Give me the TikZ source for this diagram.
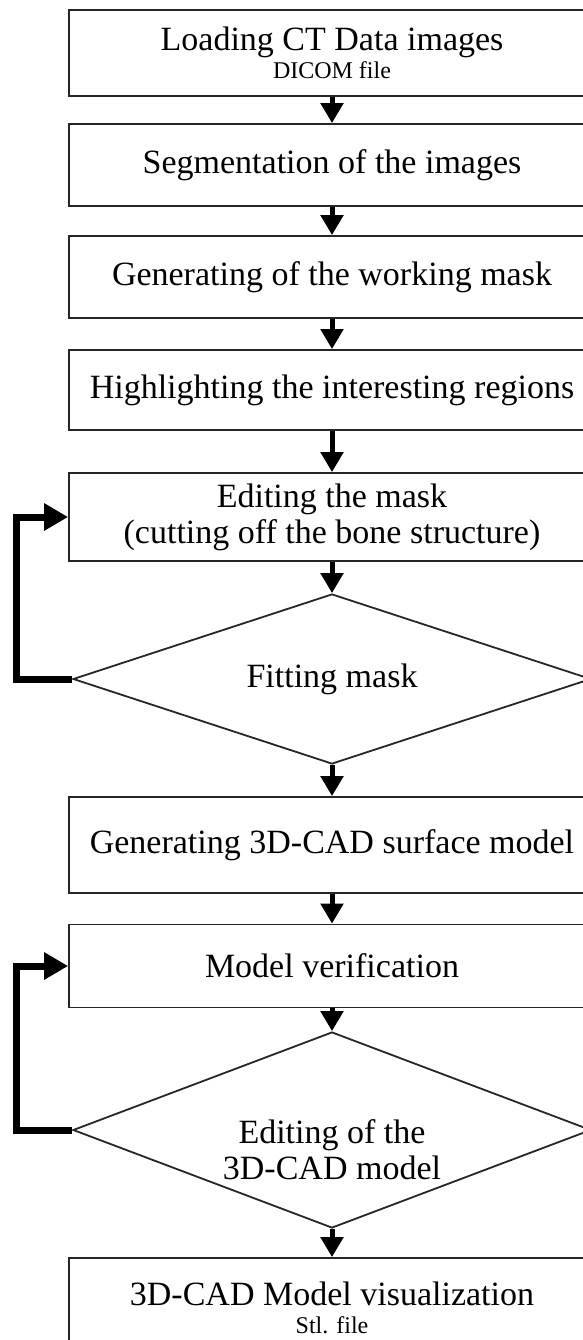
\documentclass[tikz,border=0pt]{standalone}
\usepackage{fontspec}
\setmainfont{Liberation Serif}
\usetikzlibrary{arrows.meta,shapes.geometric}

\begin{document}
\begin{tikzpicture}[x=1pt,y=-1pt,
        procbox/.style={draw=black!85,line width=1.8pt,minimum width=526pt,inner sep=0pt,align=center,font=\fontsize{34}{36}\selectfont},
        decision/.style={diamond,draw=black!85,line width=1.8pt,aspect=3,minimum width=518pt,minimum height=170pt,inner sep=0pt,align=center,font=\fontsize{34}{36}\selectfont},
        flow/.style={-{Triangle[width=22pt,length=20pt]},line width=5pt},
        back/.style={-{Triangle[width=26pt,length=24pt]},line width=7pt}]
            \useasboundingbox (0,0) rectangle (583,1340);
            \clip (0,0) rectangle (583,1340);
            % steps
            \node[procbox,minimum height=86pt] (load) at (332,53) {Loading CT Data images\\[-8pt]{\fontsize{24}{26}\selectfont DICOM file}};
            \node[procbox,minimum height=82pt] (seg) at (332,165) {Segmentation of the images};
            \node[procbox,minimum height=82pt] (mask) at (332,277) {Generating of the working mask};
            \node[procbox,minimum height=80pt] (high) at (332,390) {Highlighting the interesting regions};
            \node[procbox,minimum height=88pt] (edit) at (332,517) {Editing the mask\\(cutting off the bone structure)};
            \node[decision] (fit) at (332,679) {Fitting mask};
            \node[procbox,minimum height=96pt] (surf) at (332,845) {Generating 3D-CAD surface model};
            \node[procbox,minimum height=83pt] (verif) at (332,966) {Model verification};
            \node[decision,minimum height=196pt] (cad) at (332,1130) {};
            \node[align=center,font=\fontsize{34}{36}\selectfont] (cadtext) at ([yshift=-20pt]cad.center) {Editing of the\\3D-CAD model};
            \node[procbox,minimum height=100pt] (vis) at (332,1308) {3D-CAD Model visualization\\[-8pt]{\fontsize{24}{26}\selectfont Stl. file}};
            % flow
            \draw[flow] (load) -- (seg);
            \draw[flow] (seg) -- (mask);
            \draw[flow] (mask) -- (high);
            \draw[flow] (high) -- (edit);
            \draw[flow] (edit) -- (fit);
            \draw[flow] (fit) -- (surf);
            \draw[flow] (surf) -- (verif);
            \draw[flow] (verif) -- (cad);
            \draw[flow] (cad) -- (vis);
            % loops back
            \draw[back] (fit.west) -- ++(-56,0) |- (edit.west);
            \draw[back] (cad.west) -- ++(-56,0) |- (verif.west);
\end{tikzpicture}
\end{document}
